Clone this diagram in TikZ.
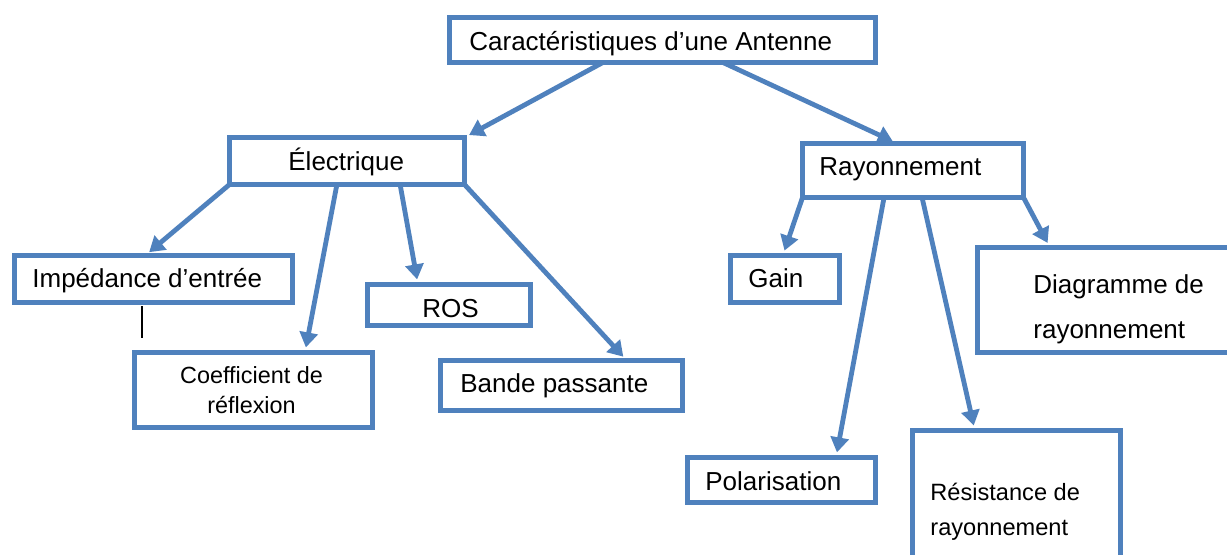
\documentclass[tikz,border=0pt]{standalone}
\usepackage{fontspec}
\setmainfont{Liberation Sans}
\usetikzlibrary{arrows.meta,calc}
\definecolor{wblue}{RGB}{79,129,189}
\begin{document}
\begin{tikzpicture}[x=0.5pt,y=-0.5pt,
  box/.style={draw=wblue,line width=2.5pt,rectangle,inner sep=0pt,outer sep=0pt,fill=white},
  conn/.style={draw=wblue,line width=2.4pt,-{Triangle[length=7.5pt,width=9pt]},shorten >=2.6pt},
  lbl/.style={inner sep=0pt,anchor=base west,font=\fontsize{13}{15}\selectfont},
  lblc/.style={inner sep=0pt,anchor=base,font=\fontsize{11.7}{14}\selectfont},
  lbls/.style={inner sep=0pt,anchor=base west,font=\fontsize{11.8}{14}\selectfont}]
\clip (0,0) rectangle (1227,554);
\fill[white] (0,0) rectangle (1227,554);
% boxes
\node[box,minimum width=213pt,minimum height=22.5pt] (top) at (662.5,40) {};
\node[box,minimum width=117.5pt,minimum height=23.5pt] (elec) at (347,161) {};
\node[box,minimum width=110.5pt,minimum height=27pt] (ray) at (913,170.5) {};
\node[box,minimum width=139pt,minimum height=23.5pt] (imp) at (153.5,279) {};
\node[box,minimum width=81.5pt,minimum height=20.5pt] (ros) at (449,305) {};
\node[box,minimum width=119pt,minimum height=37.5pt] (coef) at (253.5,390) {};
\node[box,minimum width=121pt,minimum height=25pt] (bande) at (561.5,385.5) {};
\node[box,minimum width=54.5pt,minimum height=23.5pt] (gain) at (785,279) {};
\node[box,minimum width=127.25pt,minimum height=52.5pt] (diag) at (1104.75,300) {};
\node[box,minimum width=94pt,minimum height=22.5pt] (pol) at (781.5,480) {};
\node[box,minimum width=104pt,minimum height=67.25pt] (res) at (1016.5,497.75) {};
% labels
\node[lbl] (ttop) at (469,50) {Caractéristiques d’une Antenne};
\node[lbl] (telec) at (288,170) {Électrique};
\node[lbl] (tray) at (819,175) {Rayonnement};
\node[lbl] (timp) at (32,287) {Impédance d’entrée};
\node[lbl] (tros) at (422,317) {ROS};
\node[lblc] (tcoef1) at (251.5,383) {Coefficient de};
\node[lblc] (tcoef2) at (251.5,413) {réflexion};
\node[lbl] (tbande) at (460,392) {Bande passante};
\node[lbl] (tgain) at (748,287) {Gain};
\node[lbl] (tdiag1) at (1033,293) {Diagramme de};
\node[lbl] (tdiag2) at (1033,338) {rayonnement};
\node[lbl] (tpol) at (705,490) {Polarisation};
\node[lbls] (tres1) at (930,500) {Résistance de};
\node[lbls] (tres2) at (930,535) {rayonnement};
% small mark
\coordinate (m1) at (142,306);
\coordinate (m2) at (142,338);
\draw[black,line width=1pt] (m1) -- (m2);
% connectors
\draw[conn] ($(top.south west)!0.36!(top.south east)$) -- (elec.north east);
\draw[conn] ($(top.south west)!0.642!(top.south east)$) -- ($(ray.north west)!0.43!(ray.north east)$);
\draw[conn] (elec.south west) -- ($(imp.north west)!0.47!(imp.north east)$);
\draw[conn] ($(elec.south west)!0.457!(elec.south east)$) -- ($(coef.north west)!0.716!(coef.north east)$);
\draw[conn] ($(elec.south west)!0.726!(elec.south east)$) -- ($(ros.north west)!0.31!(ros.north east)$);
\draw[conn] (elec.south east) -- ($(bande.north west)!0.77!(bande.north east)$);
\draw[conn] (ray.south west) -- ($(gain.north west)!0.48!(gain.north east)$);
\draw[conn] ($(ray.south west)!0.369!(ray.south east)$) -- ($(pol.north west)!0.79!(pol.north east)$);
\draw[conn] ($(ray.south west)!0.541!(ray.south east)$) -- ($(res.north west)!0.30!(res.north east)$);
\draw[conn] (ray.south east) -- ($(diag.north west)!0.285!(diag.north east)$);
\end{tikzpicture}
\end{document}
